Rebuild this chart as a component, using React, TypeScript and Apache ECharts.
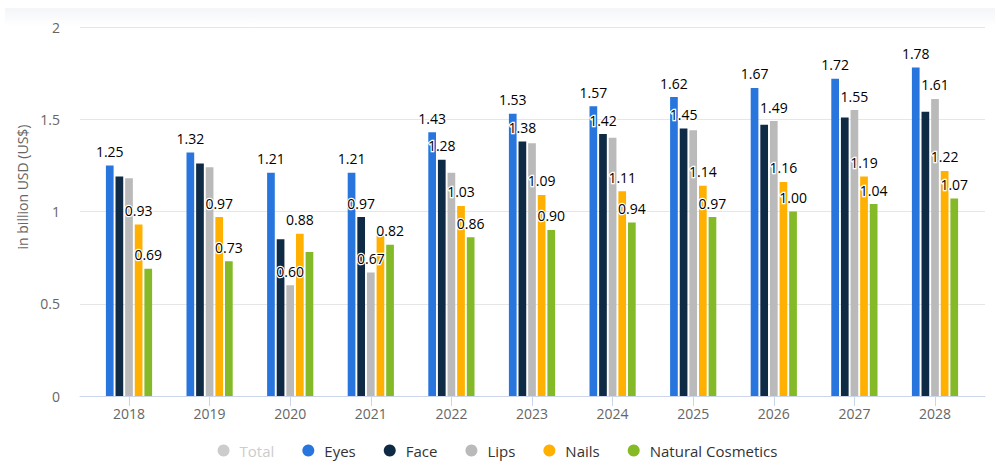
import React, { useEffect, useRef } from "react";
import * as echarts from "echarts";

const years = ["2018", "2019", "2020", "2021", "2022", "2023", "2024", "2025", "2026", "2027", "2028"];
const eyes = [1.25, 1.32, 1.21, 1.21, 1.43, 1.53, 1.57, 1.62, 1.67, 1.72, 1.78];
const face = [1.19, 1.26, 0.85, 0.97, 1.28, 1.38, 1.42, 1.45, 1.47, 1.51, 1.54];
const lips = [1.18, 1.24, 0.6, 0.67, 1.21, 1.37, 1.4, 1.44, 1.49, 1.55, 1.61];
const nails = [0.93, 0.97, 0.88, 0.87, 1.03, 1.09, 1.11, 1.14, 1.16, 1.19, 1.22];
const natural = [0.69, 0.73, 0.78, 0.82, 0.86, 0.9, 0.94, 0.97, 1.0, 1.04, 1.07];
const total: number[] = [];

// years (indices) whose value label is visible in the reference
const eyesLabels = [0, 1, 2, 3, 4, 5, 6, 7, 8, 9, 10];
const faceLabels = [3, 4, 5, 6, 7];
const lipsLabels = [2, 3, 8, 9, 10];
const nailsLabels = [0, 1, 2, 4, 5, 6, 7, 8, 9, 10];
const naturalLabels = [0, 1, 3, 4, 5, 6, 7, 8, 9, 10];

const yTicks = [0, 0.5, 1, 1.5, 2];

const FONT = "Open Sans";

export default function App() {
  const ref = useRef<HTMLDivElement>(null);
  useEffect(() => {
    document.body.style.margin = "0";
    const chart = echarts.init(ref.current!, null, { renderer: "svg" });

    const mk = (name: string, vals: number[], shown: number[], color: string) => ({
      name,
      type: "bar",
      xAxisIndex: 1,
      yAxisIndex: 1,
      barWidth: 7.7,
      barGap: "25%",
      itemStyle: { color },
      label: {
        position: "top",
        distance: 7,
        fontFamily: FONT,
        fontSize: 14,
        color: "#000",
        textBorderColor: "#fff",
        textBorderWidth: 2.5,
        formatter: (p: any) => Number(p.value).toFixed(2),
      },
      data: vals.map((v, i) => ({ value: v, label: { show: shown.includes(i) } })),
    });

    chart.setOption({
      animation: false,
      backgroundColor: "#fff",
      textStyle: { fontFamily: FONT },
      graphic: [
        {
          type: "rect",
          left: 5,
          top: 8,
          shape: { width: 990, height: 18 },
          style: {
            fill: new echarts.graphic.LinearGradient(0, 0, 0, 1, [
              { offset: 0, color: "#f3f5f8" },
              { offset: 1, color: "#ffffff" },
            ]),
          },
          z: -10,
        },
        {
          type: "text",
          x: 22,
          y: 187,
          rotation: Math.PI / 2,
          style: {
            text: "in billion USD (US$)",
            fontFamily: FONT,
            fontSize: 14,
            fill: "#666",
            align: "center",
            verticalAlign: "middle",
          },
        },
      ],
      legend: {
        top: 438,
        left: "center",
        icon: "circle",
        itemWidth: 12,
        itemHeight: 12,
        itemGap: 28,
        inactiveColor: "#cccccc",
        textStyle: { fontFamily: FONT, fontSize: 15, color: "#333", padding: [0, 0, 0, 5] },
        data: ["Total", "Eyes", "Face", "Lips", "Nails", "Natural Cosmetics"],
        selected: { Total: false },
      },
      grid: [
        { left: 80, right: 10, top: 27, bottom: 65 },
        { left: 88.7, right: 19.7, top: 27, bottom: 65 },
      ],
      xAxis: [
        {
          type: "value",
          gridIndex: 0,
          min: 0,
          max: 1,
          axisLine: { show: true, lineStyle: { color: "#ccd6eb" } },
          axisTick: { show: false },
          axisLabel: { show: false },
          splitLine: { show: false },
        },
        {
          type: "category",
          gridIndex: 1,
          data: years,
          axisLine: { show: true, lineStyle: { color: "#ccd6eb" } },
          axisTick: { show: true, alignWithLabel: true, length: 10, lineStyle: { color: "#ccd6eb" } },
          axisLabel: { fontFamily: FONT, fontSize: 14, color: "#666", margin: 10 },
        },
      ],
      yAxis: [
        {
          type: "value",
          gridIndex: 0,
          min: yTicks[0],
          max: yTicks[yTicks.length - 1],
          interval: 0.5,
          axisLine: { show: false },
          axisTick: { show: false },
          axisLabel: { fontFamily: FONT, fontSize: 14, color: "#666", margin: 20 },
          splitLine: { lineStyle: { color: "#e6e6e6" } },
        },
        {
          type: "value",
          gridIndex: 1,
          min: yTicks[0],
          max: yTicks[yTicks.length - 1],
          interval: 0.5,
          show: false,
        },
      ],
      series: [
        { name: "Total", type: "bar", xAxisIndex: 1, yAxisIndex: 1, itemStyle: { color: "#cccccc" }, data: total },
        mk("Eyes", eyes, eyesLabels, "#2876dd"),
        mk("Face", face, faceLabels, "#0f2a44"),
        mk("Lips", lips, lipsLabels, "#bababa"),
        mk("Nails", nails, nailsLabels, "#ffb000"),
        mk("Natural Cosmetics", natural, naturalLabels, "#84ba27"),
      ],
    });
    return () => chart.dispose();
  }, []);
  return <div ref={ref} style={{ width: 995, height: 461, position: "absolute", left: 0, top: 0 }} />;
}
